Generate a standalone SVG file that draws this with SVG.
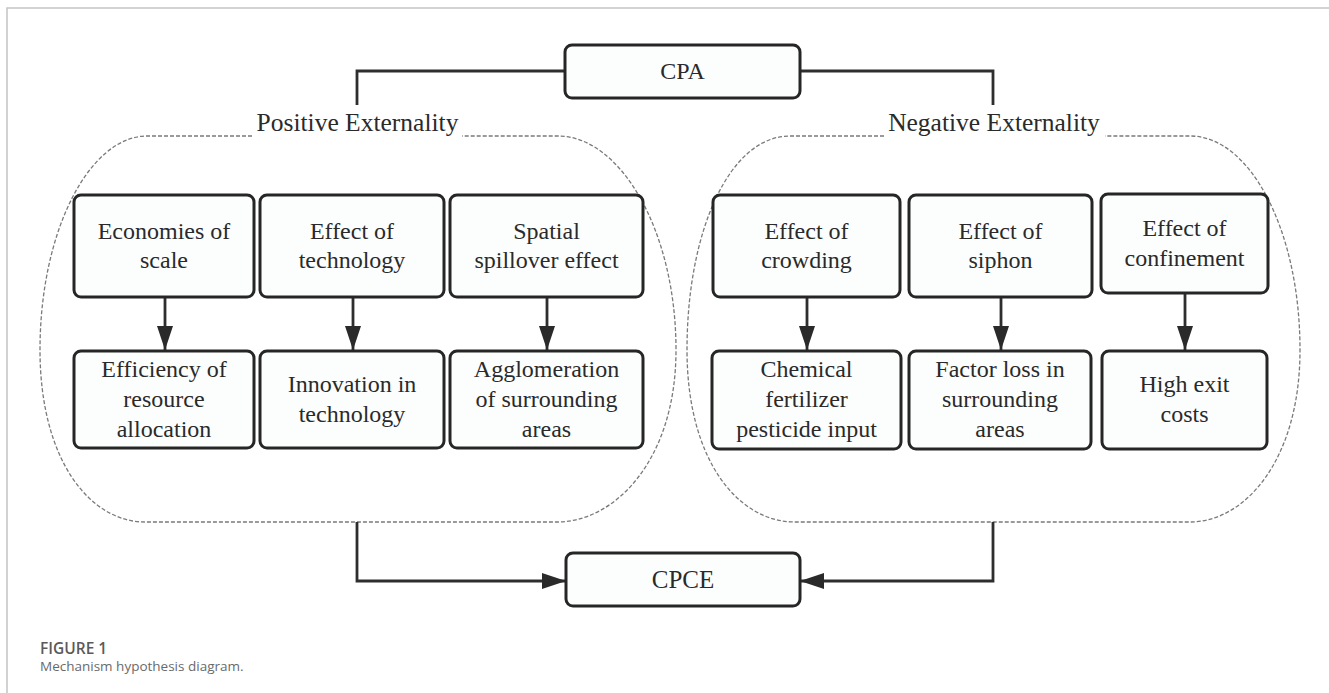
<svg xmlns="http://www.w3.org/2000/svg" width="1329" height="693" viewBox="0 0 1329 693">
<style>
.frame{stroke:#c4c4c4;stroke-width:1.5;fill:none}
.box{fill:#fcfefe;stroke:#262626;stroke-width:3}
.t{font-family:"Liberation Serif","Times New Roman",serif;font-size:24px;fill:#2a2a2a;text-anchor:middle}
.title{font-family:"Liberation Serif","Times New Roman",serif;font-size:25.5px;fill:#2a2a2a;text-anchor:middle}
.dash{fill:none;stroke:#7a7a7a;stroke-width:1.3;stroke-dasharray:4 2}
.conn{fill:none;stroke:#2e2e2e;stroke-width:2.8}
.cap1{font-family:"Open Sans","Noto Sans",sans-serif;font-size:15.5px;font-weight:600;fill:#5a5a5a}
.cap2{font-family:"Open Sans","Noto Sans",sans-serif;font-size:13.5px;fill:#6a6a6a}
</style>
<defs>
<marker id="ah" markerUnits="userSpaceOnUse" markerWidth="24" markerHeight="16" refX="24" refY="8" orient="auto">
<path d="M0,0 L24,8 L0,16 Z" fill="#2a2a2a"/>
</marker>
</defs>
<rect width="1329" height="693" fill="#ffffff"/>
<path class="frame" d="M7,693 V8 H1329"/>

<g id="groups">
<path class="dash" d="M252,136 H147 C90,136 40,230 40,350 C40,460 90,522 145,522 H557 C615,522 676,460 676,350 C676,230 620,136 558,136 H462"/>
<path class="dash" d="M884,136 H790 C730,136 687,230 687,350 C687,460 738,522 795,522 H1190 C1245,522 1300,460 1300,350 C1300,230 1250,136 1190,136 H1105"/>
<text class="title" x="357.5" y="131">Positive Externality</text>
<text class="title" x="994" y="131">Negative Externality</text>
</g>

<g id="connectors">
<path class="conn" d="M565,71 H357 V105"/>
<path class="conn" d="M800,71 H993 V105"/>
<path class="conn" d="M357,522 V581 H566" marker-end="url(#ah)"/>
<path class="conn" d="M993,522 V581 H800" marker-end="url(#ah)"/>
<path class="conn" d="M165,297 V350" marker-end="url(#ah)"/>
<path class="conn" d="M353,297 V350" marker-end="url(#ah)"/>
<path class="conn" d="M547,297 V350" marker-end="url(#ah)"/>
<path class="conn" d="M807,297 V350" marker-end="url(#ah)"/>
<path class="conn" d="M1001,297 V350" marker-end="url(#ah)"/>
<path class="conn" d="M1185,293 V350" marker-end="url(#ah)"/>
</g>

<g id="cpa"><rect class="box" x="565" y="45" width="235" height="53" rx="7"/><text class="t" x="682.5" y="79">CPA</text></g>
<g id="cpce"><rect class="box" x="566" y="553" width="234" height="53" rx="7"/><text class="t" x="683" y="588" style="font-size:25px">CPCE</text></g>

<g id="economies"><rect class="box" x="74" y="195" width="180" height="102" rx="7"/><text class="t" x="164" y="239">Economies of</text><text class="t" x="164" y="268">scale</text></g>
<g id="eff-tech"><rect class="box" x="260" y="195" width="184" height="102" rx="7"/><text class="t" x="352" y="239">Effect of</text><text class="t" x="352" y="268">technology</text></g>
<g id="spatial"><rect class="box" x="450" y="195" width="193" height="102" rx="7"/><text class="t" x="546.5" y="239">Spatial</text><text class="t" x="546.5" y="268">spillover effect</text></g>
<g id="crowding"><rect class="box" x="713" y="195" width="187" height="102" rx="7"/><text class="t" x="806.5" y="239">Effect of</text><text class="t" x="806.5" y="268">crowding</text></g>
<g id="siphon"><rect class="box" x="909" y="195" width="183" height="102" rx="7"/><text class="t" x="1000.5" y="239">Effect of</text><text class="t" x="1000.5" y="268">siphon</text></g>
<g id="confinement"><rect class="box" x="1101" y="194" width="167" height="99" rx="7"/><text class="t" x="1184.5" y="236">Effect of</text><text class="t" x="1184.5" y="266">confinement</text></g>

<g id="efficiency"><rect class="box" x="74" y="351" width="180" height="97" rx="7"/><text class="t" x="164" y="377">Efficiency of</text><text class="t" x="164" y="407">resource</text><text class="t" x="164" y="437">allocation</text></g>
<g id="innovation"><rect class="box" x="260" y="351" width="184" height="97" rx="7"/><text class="t" x="352" y="392">Innovation in</text><text class="t" x="352" y="422">technology</text></g>
<g id="agglomeration"><rect class="box" x="450" y="351" width="193" height="97" rx="7"/><text class="t" x="546.5" y="377">Agglomeration</text><text class="t" x="546.5" y="407">of surrounding</text><text class="t" x="546.5" y="437">areas</text></g>
<g id="chemical"><rect class="box" x="712" y="351" width="189" height="98" rx="7"/><text class="t" x="806.5" y="377">Chemical</text><text class="t" x="806.5" y="407">fertilizer</text><text class="t" x="806.5" y="437">pesticide input</text></g>
<g id="factor"><rect class="box" x="909" y="351" width="182" height="98" rx="7"/><text class="t" x="1000" y="377">Factor loss in</text><text class="t" x="1000" y="407">surrounding</text><text class="t" x="1000" y="437">areas</text></g>
<g id="exit"><rect class="box" x="1102" y="351" width="165" height="98" rx="7"/><text class="t" x="1184.5" y="392">High exit</text><text class="t" x="1184.5" y="422">costs</text></g>

<g id="caption">
<text class="cap1" x="40" y="654">FIGURE 1</text>
<text class="cap2" x="40" y="671">Mechanism hypothesis diagram.</text>
</g>
</svg>
